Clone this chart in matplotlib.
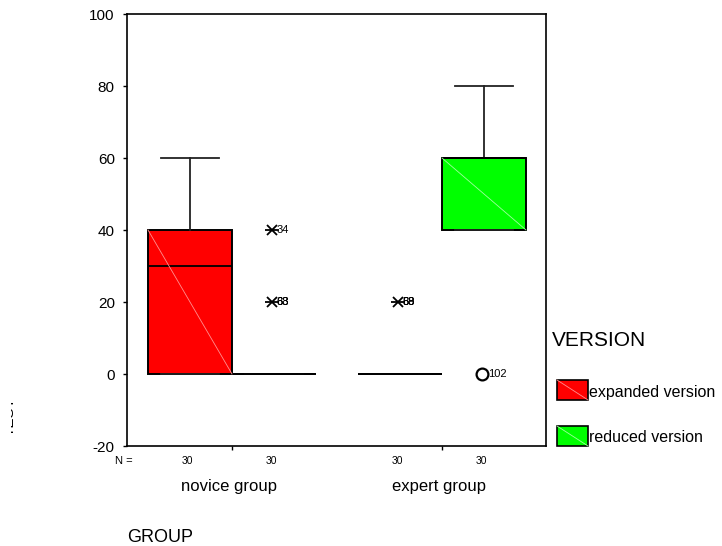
import matplotlib
matplotlib.use("Agg")
import matplotlib.pyplot as plt
from matplotlib.patches import Rectangle
from matplotlib.lines import Line2D
from matplotlib.transforms import Bbox, TransformedBbox, blended_transform_factory

plt.rcParams['font.family'] = ['Liberation Sans', 'DejaVu Sans']

# ---------------- data ----------------
groups = ["novice group", "expert group"]
versions = ["expanded version", "reduced version"]
version_colors = ["#FF0000", "#00FF00"]
box_group = [0, 0, 1, 1]
box_version = [0, 1, 0, 1]
n_counts = [30, 30, 30, 30]

whislo = [0, 0, 0, 40]
q1 = [0, 0, 0, 40]
med = [30, 0, 0, 60]
q3 = [40, 0, 0, 60]
whishi = [60, 0, 0, 80]

# extreme values (asterisks)
extreme_box = [1, 1, 2]
extreme_val = [40, 20, 20]
extreme_ids = [["34"], ["33", "63", "68"], ["38", "53", "69"]]

# outliers (circles)
outlier_box = [3]
outlier_val = [0]
outlier_ids = [["102"]]

y_ticks = [-20, 0, 20, 40, 60, 80, 100]

# ---------------- figure ----------------
W, H = 722, 546
fig = plt.figure(figsize=(W / 100, H / 100), dpi=100)
ax = fig.add_axes([127 / W, 100 / H, (546 - 127) / W, (446 - 14) / H])

positions = [1.0, 2.0, 3.5, 4.5]
stats = []
for i in range(4):
    stats.append(dict(whislo=whislo[i], q1=q1[i], med=med[i], q3=q3[i],
                      whishi=whishi[i], fliers=[], label=""))

bp = ax.bxp(stats, positions=positions, widths=1.0, patch_artist=True,
            showfliers=False, capwidths=0.7,
            boxprops=dict(edgecolor='black', linewidth=1.4),
            medianprops=dict(color='black', linewidth=1.3),
            whiskerprops=dict(color='#222222', linewidth=1.3),
            capprops=dict(color='#222222', linewidth=1.3))
light = ["#FF9090", "#A0FFA0"]
for i, patch in enumerate(bp['boxes']):
    patch.set_facecolor(version_colors[box_version[i]])
    if q3[i] > q1[i]:
        ax.plot([positions[i] - 0.5, positions[i] + 0.5], [q3[i], q1[i]],
                color=light[box_version[i]], lw=0.6, zorder=2.5)

# extremes
for b, v, ids in zip(extreme_box, extreme_val, extreme_ids):
    x = positions[b] - 0.02
    ax.plot(x, v, marker='x', ms=6.5, mew=1.3, color='black', zorder=4)
    ax.plot(x, v, marker='_', ms=10, mew=1.3, color='black', zorder=4)
    for lab in ids:
        ax.annotate(lab, (x, v), xytext=(3, 0), textcoords='offset points',
                    ha='left', va='center', fontsize=8)

# outliers
for b, v, ids in zip(outlier_box, outlier_val, outlier_ids):
    x = positions[b] - 0.02
    ax.plot(x, v, marker='o', ms=8.5, mew=1.6, mfc='none', mec='black', zorder=4)
    for lab in ids:
        ax.annotate(lab, (x, v), xytext=(4, 0), textcoords='offset points',
                    ha='left', va='center', fontsize=8)

ax.set_xlim(0.25, 5.238)
ax.set_ylim(-20, 100)
ax.set_yticks(y_ticks)
ax.set_yticklabels([str(t) for t in y_ticks])
ax.tick_params(axis='y', direction='out', length=3, width=1, labelsize=11, pad=5.8)
group_centers = [1.5, 4.0]
ax.set_xticks(group_centers)
ax.set_xticklabels(["", ""])
ax.tick_params(axis='x', direction='out', length=3, width=1)
for s in ax.spines.values():
    s.set_linewidth(1.2)

trans = blended_transform_factory(ax.transData, fig.transFigure)
# N labels
fig.text(124 / W, 1 - 461 / H, "N =", ha='center', va='center', fontsize=8)
for p, n in zip(positions, n_counts):
    ax.text(p - 0.03, 1 - 461 / H, str(n), transform=trans, ha='center',
            va='center', fontsize=7.5)
for gc, g in zip(group_centers, groups):
    ax.text(gc - 0.03, 1 - 487 / H, g, transform=trans, ha='center',
            va='center', fontsize=12)

fig.text(127 / W, 1 - 538 / H, "GROUP", ha='left', va='center', fontsize=13)

t = fig.text(17 / W, 1 - 417 / H, "TEST", rotation=90, ha='right', va='center',
             fontsize=11)
t.set_clip_box(TransformedBbox(Bbox.from_extents(11 / W, 0, 20 / W, 1), fig.transFigure))
t.set_clip_on(True)

# legend
fig.text(552 / W, 1 - 341 / H, "VERSION", ha='left', va='center', fontsize=15)
leg_tops = [380, 426]
for i, (name, col) in enumerate(zip(versions, version_colors)):
    y0 = leg_tops[i]
    fig.patches.append(Rectangle((557 / W, 1 - (y0 + 20) / H), 31 / W, 20 / H,
                                 transform=fig.transFigure, facecolor=col,
                                 edgecolor='black', linewidth=1.2))
    fig.lines.append(Line2D([557 / W, 588 / W], [1 - y0 / H, 1 - (y0 + 20) / H],
                            transform=fig.transFigure, color=light[i], lw=0.6))
    fig.text(589 / W, 1 - (y0 + 12) / H, name, ha='left', va='center', fontsize=11.5)

fig.savefig("out.png", dpi=100)
